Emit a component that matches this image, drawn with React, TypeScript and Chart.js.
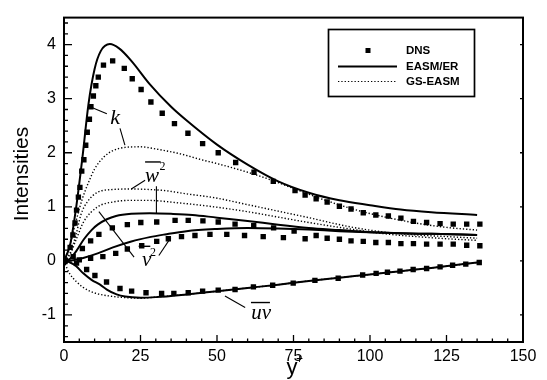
import React, { useEffect, useRef } from 'react';
import { Chart, registerables } from 'chart.js';

Chart.register(...registerables);

// ---------- axis ticks ----------
const xTickValues = [0, 25, 50, 75, 100, 125, 150];
const yTickValues = [-1, 0, 1, 2, 3, 4];

// ---------- DNS (symbols) ----------
const dnsKX = [0.3, 2, 2.9, 3.6, 4.1, 4.7, 5.2, 5.8, 6.5, 7.1, 7.6, 8.3, 8.8, 9.6, 10.4, 11.2, 12.9, 15.9, 19.7, 22.3, 25.2, 28.4, 32.1, 36.1, 40.5, 45.3, 50.4, 56.1, 62.1, 68.4, 75.5, 78.8, 82.4, 86, 90, 93.8, 97.8, 101.9, 106, 110.1, 114.2, 118.5, 122.9, 127.2, 131.6, 135.9];
const dnsKY = [0.01, 0.25, 0.48, 0.7, 0.94, 1.18, 1.36, 1.66, 1.87, 2.14, 2.38, 2.62, 2.85, 3.05, 3.24, 3.4, 3.62, 3.7, 3.56, 3.37, 3.17, 2.94, 2.73, 2.54, 2.36, 2.17, 2.0, 1.82, 1.64, 1.47, 1.3, 1.22, 1.15, 1.09, 1.01, 0.96, 0.89, 0.85, 0.83, 0.79, 0.73, 0.71, 0.69, 0.68, 0.68, 0.68];

const dnsW2X = [0.3, 3, 6, 8.7, 11.4, 15.8, 20.7, 25.1, 30.3, 36.3, 40.6, 45.4, 50.4, 55.9, 62, 68.5, 75.2, 82.4, 86, 90, 93.8, 97.8, 101.9, 106, 110.1, 114.2, 118.5, 122.9, 127.2, 131.6, 135.9];
const dnsW2Y = [0.01, 0.08, 0.23, 0.37, 0.49, 0.61, 0.67, 0.71, 0.72, 0.75, 0.75, 0.74, 0.72, 0.68, 0.65, 0.61, 0.55, 0.47, 0.42, 0.4, 0.37, 0.36, 0.34, 0.34, 0.32, 0.32, 0.31, 0.31, 0.31, 0.29, 0.28];

const dnsV2X = [0.3, 5, 8.7, 12.7, 16.9, 20.7, 25.4, 30.3, 34.1, 38.4, 42.8, 47.7, 53.2, 59, 65.1, 71.7, 78.8];
const dnsV2Y = [0.0, 0.02, 0.05, 0.08, 0.14, 0.22, 0.28, 0.36, 0.41, 0.45, 0.47, 0.49, 0.49, 0.47, 0.45, 0.43, 0.41];

const dnsUvX = [0.3, 4.1, 7.4, 10.1, 13.9, 18.3, 22.1, 26.8, 31.9, 35.9, 40.6, 45.3, 50.4, 55.9, 61.9, 68.2, 74.9, 82, 89.6, 97.6, 102, 105.7, 109.8, 114.1, 118.5, 122.9, 127, 131.3, 135.7];
const dnsUvY = [-0.01, -0.04, -0.16, -0.27, -0.39, -0.51, -0.56, -0.59, -0.6, -0.6, -0.59, -0.56, -0.54, -0.53, -0.48, -0.45, -0.41, -0.36, -0.32, -0.26, -0.23, -0.21, -0.19, -0.16, -0.14, -0.11, -0.08, -0.06, -0.03];

// ---------- EASM/ER (solid) ----------
const erKX = [0, 2, 4, 6, 8, 10, 12, 15, 18, 22, 28, 35, 40, 50, 60, 70, 80, 90, 100, 110, 120, 135];
const erKY = [0, 0.3, 1.0, 1.9, 2.9, 3.55, 3.88, 4.01, 3.93, 3.7, 3.27, 2.85, 2.6, 2.15, 1.78, 1.47, 1.26, 1.12, 1.03, 0.95, 0.9, 0.85];

const erW2X = [0, 2, 4, 6.5, 9, 11, 14, 17, 22, 28, 35, 42, 50, 60, 70, 80, 90, 100, 110, 120, 135];
const erW2Y = [0, 0.04, 0.18, 0.4, 0.57, 0.67, 0.77, 0.83, 0.87, 0.88, 0.87, 0.85, 0.8, 0.74, 0.67, 0.61, 0.57, 0.53, 0.51, 0.5, 0.48];

const erV2X = [0, 3, 6, 11, 16, 22, 28, 33, 40, 50, 60, 70, 80, 90, 100, 110, 120, 135];
const erV2Y = [0, 0.01, 0.05, 0.14, 0.25, 0.36, 0.44, 0.49, 0.55, 0.59, 0.61, 0.6, 0.58, 0.55, 0.53, 0.51, 0.5, 0.48];

const erUvX = [0, 2, 4, 6.3, 9, 11.8, 14, 17.2, 20, 25, 30, 40, 50, 60, 70, 80, 90, 100, 110, 120, 135];
const erUvY = [0, -0.03, -0.1, -0.23, -0.35, -0.44, -0.53, -0.62, -0.66, -0.68, -0.67, -0.62, -0.56, -0.5, -0.44, -0.37, -0.31, -0.25, -0.19, -0.13, -0.03];

// ---------- GS-EASM (dotted) ----------
const gsKX = [0, 2, 4, 6, 8, 10, 13, 16, 20, 25, 30, 38, 45, 50, 60, 68, 75, 85, 95, 105, 115, 125, 135];
const gsKY = [0, 0.3, 0.75, 1.15, 1.45, 1.7, 1.92, 2.04, 2.1, 2.11, 2.07, 1.98, 1.87, 1.8, 1.64, 1.49, 1.34, 1.13, 0.95, 0.81, 0.7, 0.62, 0.57];

const gsW2X = [0, 2, 4, 5.5, 7.6, 11, 16, 22, 28, 33, 40, 49, 60, 70, 80, 93.5, 105, 115, 125, 135];
const gsW2Y = [0, 0.15, 0.5, 0.85, 1.09, 1.27, 1.32, 1.33, 1.32, 1.3, 1.24, 1.17, 1.04, 0.92, 0.8, 0.63, 0.53, 0.48, 0.45, 0.42];

const gsV2X = [0, 2, 4, 6.5, 11, 16, 22, 27, 38, 49, 60, 70, 80, 93.5, 105, 115, 125, 135];
const gsV2Y = [0, 0.12, 0.4, 0.73, 1.0, 1.09, 1.12, 1.12, 1.07, 1.0, 0.91, 0.81, 0.71, 0.59, 0.5, 0.45, 0.41, 0.38];

const gsUvX = [0, 1, 2, 4, 6, 8.5, 11, 15, 20, 25, 30, 40, 50, 60, 70, 80, 90, 100, 110, 120, 135];
const gsUvY = [0, -0.14, -0.25, -0.38, -0.48, -0.56, -0.61, -0.65, -0.68, -0.69, -0.67, -0.62, -0.56, -0.5, -0.44, -0.37, -0.31, -0.25, -0.19, -0.13, -0.03];

// ---------- legend & labels ----------
const legendLabels = ['DNS', 'EASM/ER', 'GS-EASM'];
const yTitle = 'Intensities';

const pts = (xs: number[], ys: number[]) => xs.map((v, i) => ({ x: v, y: ys[i] }));

const DOT_DASH = [1.3, 2.0];

const solid = (xs: number[], ys: number[]) => ({
  type: 'line' as const,
  data: pts(xs, ys),
  borderColor: '#000',
  borderWidth: 2,
  pointRadius: 0,
  cubicInterpolationMode: 'monotone' as const,
  fill: false,
});
const dotted = (xs: number[], ys: number[]) => ({
  type: 'line' as const,
  data: pts(xs, ys),
  borderColor: '#000',
  borderWidth: 1.4,
  borderDash: DOT_DASH,
  pointRadius: 0,
  cubicInterpolationMode: 'monotone' as const,
  fill: false,
});
const symbols = (xs: number[], ys: number[]) => ({
  type: 'line' as const,
  data: pts(xs, ys),
  showLine: false,
  pointStyle: 'rect' as const,
  pointRadius: 3.8,
  pointBackgroundColor: '#000',
  pointBorderWidth: 0,
  borderColor: '#000',
});

const decorPlugin = {
  id: 'decor',
  afterDatasetsDraw(chart: any) {
    const { ctx, chartArea: a, scales } = chart;
    const xs = scales.x;
    const ys = scales.y;
    const X = (v: number) => xs.getPixelForValue(v);
    const Y = (v: number) => ys.getPixelForValue(v);
    ctx.save();

    // frame
    ctx.strokeStyle = '#000';
    ctx.lineWidth = 2;
    ctx.strokeRect(a.left, a.top, a.right - a.left, a.bottom - a.top);

    // inward ticks
    ctx.lineWidth = 1.3;
    ctx.beginPath();
    for (let i = 0; i <= 30; i++) {
      const v = i * 5;
      const px = X(v);
      const len = i % 5 === 0 ? 7 : 3.5;
      ctx.moveTo(px, a.bottom);
      ctx.lineTo(px, a.bottom - len);
    }
    for (let i = -7; i <= 22; i++) {
      const v = i * 0.2;
      const py = Y(v);
      const major = i % 5 === 0;
      ctx.moveTo(a.left, py);
      ctx.lineTo(a.left + (major ? 8 : 4), py);
      if (major) {
        ctx.moveTo(a.right, py);
        ctx.lineTo(a.right - 3, py);
      }
    }
    ctx.stroke();

    // curve annotations (positions in data units)
    ctx.lineWidth = 1.1;
    const seg = (x1: number, y1: number, x2: number, y2: number) => {
      ctx.beginPath();
      ctx.moveTo(X(x1), Y(y1));
      ctx.lineTo(X(x2), Y(y2));
      ctx.stroke();
    };
    seg(8.5, 2.85, 14, 2.72);
    seg(18.3, 2.45, 19.9, 2.14);
    seg(26.5, 1.49, 22, 1.33);
    seg(30.2, 1.38, 30.2, 0.87);
    seg(11.4, 0.91, 22.9, 0.07);
    seg(31.0, 0.1, 34.9, 0.43);
    seg(52.6, -0.65, 59.2, -0.86);
    // overlines
    ctx.lineWidth = 1.4;
    seg(26.5, 1.83, 31.6, 1.83);
    seg(24.4, 0.27, 28.2, 0.27);
    seg(61.1, -0.77, 67.3, -0.77);

    ctx.fillStyle = '#000';
    ctx.textAlign = 'center';
    ctx.textBaseline = 'middle';
    ctx.font = 'italic 22px "Liberation Serif"';
    ctx.fillText('k', X(16.7), Y(2.63));
    ctx.font = 'italic 21px "Liberation Serif"';
    ctx.fillText('w', X(28.8), Y(1.56));
    ctx.fillText('v', X(27), Y(0.0));
    ctx.fillText('uv', X(64.4), Y(-0.98));
    ctx.font = '12px "Liberation Serif"';
    ctx.fillText('2', X(32.2), Y(1.74));
    ctx.fillText('2', X(29.1), Y(0.14));

    // axis titles
    ctx.font = '21px "Liberation Sans"';
    ctx.save();
    ctx.translate(22, 174);
    ctx.rotate(-Math.PI / 2);
    ctx.fillText(yTitle, 0, 0);
    ctx.restore();
    ctx.font = '22px "Liberation Sans"';
    ctx.textBaseline = 'alphabetic';
    ctx.fillText('y', 292, 374);
    ctx.font = '12px "Liberation Sans"';
    ctx.fillText('+', 299.5, 363);

    // legend box
    const lx = 328.5, ly = 29.5, lw = 146, lh = 67;
    ctx.lineWidth = 1.7;
    ctx.strokeRect(lx, ly, lw, lh);
    const rows = [50.5, 66.5, 81.5];
    ctx.fillRect(365.5, rows[0] - 2.5, 5, 5);
    ctx.lineWidth = 2;
    ctx.beginPath();
    ctx.moveTo(338, rows[1]);
    ctx.lineTo(397, rows[1]);
    ctx.stroke();
    ctx.lineWidth = 1.2;
    ctx.setLineDash(DOT_DASH);
    ctx.beginPath();
    ctx.moveTo(338, rows[2]);
    ctx.lineTo(397, rows[2]);
    ctx.stroke();
    ctx.setLineDash([]);
    ctx.font = 'bold 11.5px "Liberation Sans"';
    ctx.textAlign = 'left';
    ctx.textBaseline = 'middle';
    legendLabels.forEach((t, i) => ctx.fillText(t, 406, rows[i]));

    ctx.restore();
  },
};

export default function App() {
  const ref = useRef<HTMLCanvasElement | null>(null);

  useEffect(() => {
    if (!ref.current) return;
    const chart = new Chart(ref.current, {
      type: 'line',
      data: {
        datasets: [
          solid(erKX, erKY),
          solid(erW2X, erW2Y),
          solid(erV2X, erV2Y),
          solid(erUvX, erUvY),
          dotted(gsKX, gsKY),
          dotted(gsW2X, gsW2Y),
          dotted(gsV2X, gsV2Y),
          dotted(gsUvX, gsUvY),
          symbols(dnsKX, dnsKY),
          symbols(dnsW2X, dnsW2Y),
          symbols(dnsV2X, dnsV2Y),
          symbols(dnsUvX, dnsUvY),
        ] as any,
      },
      options: {
        animation: false,
        responsive: false,
        devicePixelRatio: 1,
        layout: { padding: { top: 8, right: 24, left: 0, bottom: 0 } },
        plugins: { legend: { display: false }, tooltip: { enabled: false } },
        scales: {
          x: {
            type: 'linear',
            min: 0,
            max: 150,
            grid: { display: false, drawTicks: false },
            border: { display: false },
            afterBuildTicks: (s: any) => {
              s.ticks = xTickValues.map((v) => ({ value: v }));
            },
            afterFit: (s: any) => {
              s.height = 38;
            },
            ticks: {
              color: '#000',
              padding: 5,
              maxRotation: 0,
              autoSkip: false,
              font: { family: '"Liberation Sans"', size: 16 },
              callback: (v: any) => String(v),
            },
          },
          y: {
            type: 'linear',
            min: -1.5,
            max: 4.5,
            grid: { display: false, drawTicks: false },
            border: { display: false },
            afterBuildTicks: (s: any) => {
              s.ticks = yTickValues.map((v) => ({ value: v }));
            },
            afterFit: (s: any) => {
              s.width = 64;
            },
            ticks: {
              color: '#000',
              padding: 8,
              autoSkip: false,
              font: { family: '"Liberation Sans"', size: 16 },
              callback: (v: any) => String(v),
            },
          },
        },
      } as any,
      plugins: [decorPlugin],
    });
    return () => chart.destroy();
  }, []);

  return (
    <div style={{ position: 'absolute', left: 0, top: 0, width: 547, height: 380, background: '#fff' }}>
      <canvas ref={ref} width={547} height={380} />
    </div>
  );
}
